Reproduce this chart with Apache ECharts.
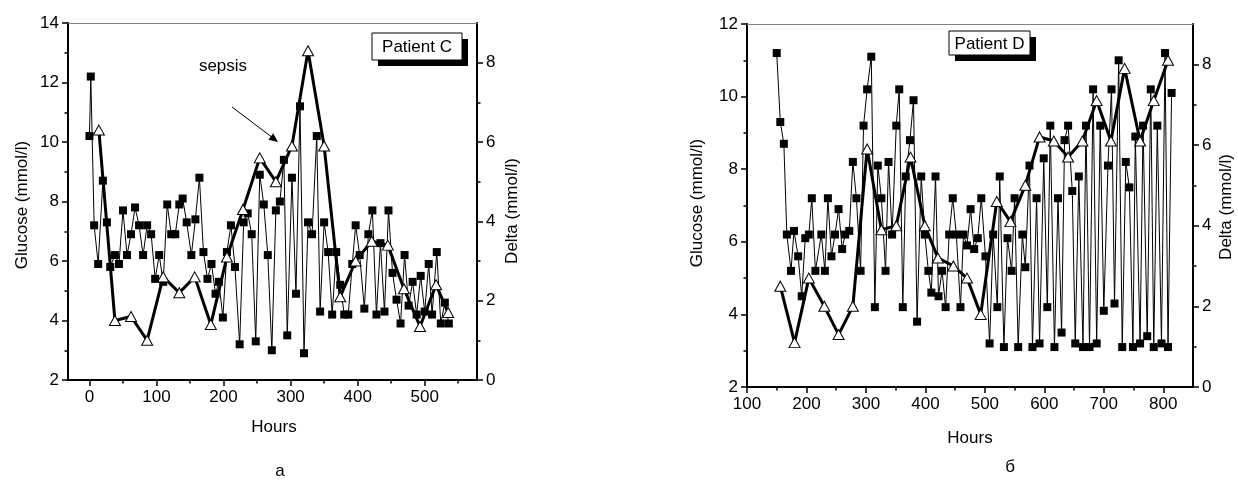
<!DOCTYPE html>
<html>
<head>
<meta charset="utf-8">
<script src="https://cdn.jsdelivr.net/npm/echarts@6/dist/echarts.min.js"></script>
<style>
html,body{margin:0;padding:0;background:#fff;}
#chart{width:1238px;height:481px;}
</style>
</head>
<body>
<div id="chart"></div>
<script>
// ---------- Patient C (panel a) ----------
const hoursC = [0,2,7,13,20,26,31,38,44,50,56,62,68,74,80,86,92,98,104,110,
  116,122,128,134,139,145,152,158,164,170,176,182,188,193,199,205,211,217,224,230,
  236,242,248,254,260,266,272,278,284,290,295,302,308,314,320,326,332,339,344,350,
  356,362,368,374,380,386,392,397,403,410,416,422,428,434,440,446,452,458,464,470,
  476,482,488,494,500,506,511,518,524,530,536];
const glucoseC = [10.2,12.2,7.2,5.9,8.7,7.3,5.8,6.2,5.9,7.7,6.2,6.9,7.8,7.2,6.2,7.2,6.9,5.4,6.2,5.3,
  7.9,6.9,6.9,7.9,8.1,7.3,6.2,7.4,8.8,6.3,5.4,5.9,4.9,5.3,4.1,6.3,7.2,5.8,3.2,7.3,
  7.6,6.9,3.3,8.9,7.9,6.2,3.0,7.7,8.0,9.4,3.5,8.8,4.9,11.2,2.9,7.3,6.9,10.2,4.3,7.3,
  6.3,4.2,6.3,5.2,4.2,4.2,5.9,7.2,6.2,4.4,6.9,7.7,4.2,6.6,4.3,7.7,5.6,4.7,3.9,6.2,
  4.5,5.3,4.2,5.5,4.3,5.9,4.2,6.3,3.9,4.6,3.9];
const deltaHoursC = [14,38,62,86,110,134,157,181,205,229,254,278,302,326,350,374,397,421,445,469,493,517,535];
const deltaC = [6.3,1.5,1.6,1.0,2.6,2.2,2.6,1.4,3.1,4.3,5.6,5.0,5.9,8.3,5.9,2.1,3.0,3.5,3.4,2.3,1.35,2.4,1.7];

// ---------- Patient D (panel б) ----------
const hoursD = [150,156,162,167,174,179,186,192,198,204,
  209,215,225,231,236,242,248,254,260,265,
  272,278,284,291,296,302,309,315,320,326,
  333,338,344,351,356,362,367,374,380,386,
  393,399,405,410,417,422,428,434,440,446,
  452,459,464,470,476,482,488,494,501,508,
  514,521,525,532,538,545,550,556,563,568,
  575,580,587,592,599,605,610,617,623,629,
  634,640,647,652,658,665,670,676,682,688,
  694,700,707,713,718,725,731,737,743,749,
  753,761,766,773,779,784,790,797,803,808,
  814];
const glucoseD = [11.2,9.3,8.7,6.2,5.2,6.3,5.6,4.5,6.1,6.2,
  7.2,5.2,6.2,5.2,7.2,5.6,6.2,6.9,5.8,6.2,
  6.3,8.2,7.2,5.2,9.2,10.2,11.1,4.2,8.1,7.2,
  5.2,8.2,6.2,9.2,10.2,4.2,7.8,8.8,9.9,3.8,
  7.8,6.2,5.2,4.6,7.8,4.5,5.2,4.2,6.2,7.2,
  6.2,4.2,6.2,5.9,6.9,5.8,6.1,7.2,5.6,3.2,
  6.2,4.2,7.8,3.1,6.1,5.2,7.2,3.1,6.2,5.3,
  8.1,3.1,7.2,3.2,8.3,4.2,9.2,3.1,7.2,3.5,
  8.8,9.2,7.4,3.2,7.8,3.1,9.2,3.1,10.2,3.2,
  9.2,4.1,8.1,10.2,4.3,11.0,3.1,8.2,7.5,3.1,
  8.9,3.2,9.2,3.4,10.2,3.1,9.2,3.2,11.2,3.1,
  10.1];
const deltaHoursD = [156,180,204,230,254,278,302,326,351,375,399,421,447,470,493,520,543,568,592,616,640,664,688,712,735,761,784,808];
const deltaD = [2.5,1.1,2.7,2.0,1.3,2.0,5.9,3.9,4.0,5.7,4.0,3.2,3.0,2.7,1.8,4.6,4.1,5.0,6.2,6.1,5.7,6.1,7.1,6.1,7.9,6.1,7.1,8.1];

// tick labels
const xTicksC = [0,100,200,300,400,500];
const xMinorC = [50,150,250,350,450,550];
const xTicksD = [100,200,300,400,500,600,700,800];
const xMinorD = [150,250,350,450,550,650,750];
const gluTicksC = [2,4,6,8,10,12,14];
const gluMinorC = [3,5,7,9,11,13];
const gluTicksD = [2,4,6,8,10,12];
const gluMinorD = [3,5,7,9,11];
const deltaTicks = [0,2,4,6,8];
const deltaMinor = [1,3,5,7];

const FONT = '"Liberation Sans", Arial, sans-serif';
const zip = (a, b) => a.map((v, i) => [v, b[i]]);

function mainAxis(gridIndex, pos, min, max, ticks, lineColor) {
  return {
    type: 'value', gridIndex, position: pos, min, max,
    axisLine: { show: true, onZero: false, lineStyle: { color: lineColor || '#000', width: 2 } },
    axisTick: { show: true, inside: false, length: 6, customValues: ticks, lineStyle: { color: '#000', width: 1.5 } },
    axisLabel: { show: true, customValues: ticks, margin: 9, color: '#000', fontSize: 17, fontFamily: FONT },
    splitLine: { show: false }, minorTick: { show: false }
  };
}
function minorAxis(gridIndex, pos, min, max, ticks) {
  return {
    type: 'value', gridIndex, position: pos, min, max,
    axisLine: { show: false, onZero: false },
    axisTick: { show: true, inside: false, length: 3.5, customValues: ticks, lineStyle: { color: '#000', width: 1.5 } },
    axisLabel: { show: false },
    splitLine: { show: false }
  };
}
function frameAxis(gridIndex, min, max) {
  return {
    type: 'value', gridIndex, position: 'top', min, max,
    axisLine: { show: true, onZero: false, lineStyle: { color: '#808080', width: 1 } },
    axisTick: { show: false }, axisLabel: { show: false }, splitLine: { show: false }
  };
}

const chart = echarts.init(document.getElementById('chart'));

function titleText(text, x, y, rot) {
  return {
    type: 'text', x, y, rotation: rot || 0, silent: true,
    style: { text, textAlign: 'center', textVerticalAlign: 'middle', font: '17px ' + FONT, fill: '#000' }
  };
}
function patientBox(label, x, y, w, h) {
  return [
    { type: 'rect', shape: { x: x + 6, y: y + 6, width: w, height: h }, style: { fill: '#000' }, z: 10 },
    { type: 'rect', shape: { x, y, width: w, height: h }, style: { fill: '#fff', stroke: '#000', lineWidth: 1 }, z: 11 },
    { type: 'text', x: x + w / 2, y: y + h / 2 + 1, z: 12,
      style: { text: label, textAlign: 'center', textVerticalAlign: 'middle', font: '17px ' + FONT, fill: '#000' } }
  ];
}

const lineSeries = (xi, yi, data, z) => ({
  type: 'line', xAxisIndex: xi, yAxisIndex: yi, data, z,
  symbol: 'rect', symbolSize: 8, showSymbol: true,
  itemStyle: { color: '#000' }, lineStyle: { color: '#000', width: 1 }, silent: true
});
const deltaLine = (xi, yi, data) => ({
  type: 'line', xAxisIndex: xi, yAxisIndex: yi, data, z: 2,
  showSymbol: false, lineStyle: { color: '#000', width: 3 }, silent: true
});
const deltaMarks = (xi, yi, data) => ({
  type: 'scatter', xAxisIndex: xi, yAxisIndex: yi, data, z: 4,
  symbol: 'triangle', symbolSize: [11, 10],
  itemStyle: { color: '#fff', borderColor: '#000', borderWidth: 1, opacity: 1 }, silent: true
});

const option = {
  animation: false,
  backgroundColor: '#fff',
  grid: [
    { left: 68, top: 23, right: 761, bottom: 101, containLabel: false },
    { left: 747, top: 24, right: 45, bottom: 94, containLabel: false }
  ],
  xAxis: [
    mainAxis(0, 'bottom', -32, 578, xTicksC),
    minorAxis(0, 'bottom', -32, 578, xMinorC),
    frameAxis(0, -32, 578),
    mainAxis(1, 'bottom', 100, 850, xTicksD),
    minorAxis(1, 'bottom', 100, 850, xMinorD),
    frameAxis(1, 100, 850)
  ],
  yAxis: [
    mainAxis(0, 'left', 2, 14, gluTicksC),
    minorAxis(0, 'left', 2, 14, gluMinorC),
    mainAxis(0, 'right', 0, 9, deltaTicks),
    minorAxis(0, 'right', 0, 9, deltaMinor),
    mainAxis(1, 'left', 2, 12, gluTicksD),
    minorAxis(1, 'left', 2, 12, gluMinorD),
    mainAxis(1, 'right', 0, 9, deltaTicks),
    minorAxis(1, 'right', 0, 9, deltaMinor)
  ],
  series: [
    deltaLine(0, 2, zip(deltaHoursC, deltaC)),
    lineSeries(0, 0, zip(hoursC, glucoseC), 3),
    deltaMarks(0, 2, zip(deltaHoursC, deltaC)),
    deltaLine(3, 6, zip(deltaHoursD, deltaD)),
    lineSeries(3, 4, zip(hoursD, glucoseD), 3),
    deltaMarks(3, 6, zip(deltaHoursD, deltaD))
  ],
  graphic: [
    titleText('Glucose (mmol/l)', 22, 205, Math.PI / 2),
    titleText('Delta (mmol/l)', 512, 211, Math.PI / 2),
    titleText('Glucose (mmol/l)', 697, 203, Math.PI / 2),
    titleText('Delta (mmol/l)', 1226, 207, Math.PI / 2),
    titleText('Hours', 274, 427),
    titleText('Hours', 970, 438),
    titleText('а', 280, 471),
    titleText('б', 1010, 467),
    titleText('sepsis', 223, 66),
    { type: 'line', shape: { x1: 232, y1: 107, x2: 271, y2: 136.5 }, style: { stroke: '#000', lineWidth: 1 }, z: 10 },
    { type: 'polygon', shape: { points: [[278, 142], [273.2, 133.3], [268.4, 139.7]] }, style: { fill: '#000' }, z: 10 },
    ...patientBox('Patient C', 372, 33, 90, 27),
    ...patientBox('Patient D', 949, 31, 81, 24)
  ]
};
chart.setOption(option);
</script>
</body>
</html>
